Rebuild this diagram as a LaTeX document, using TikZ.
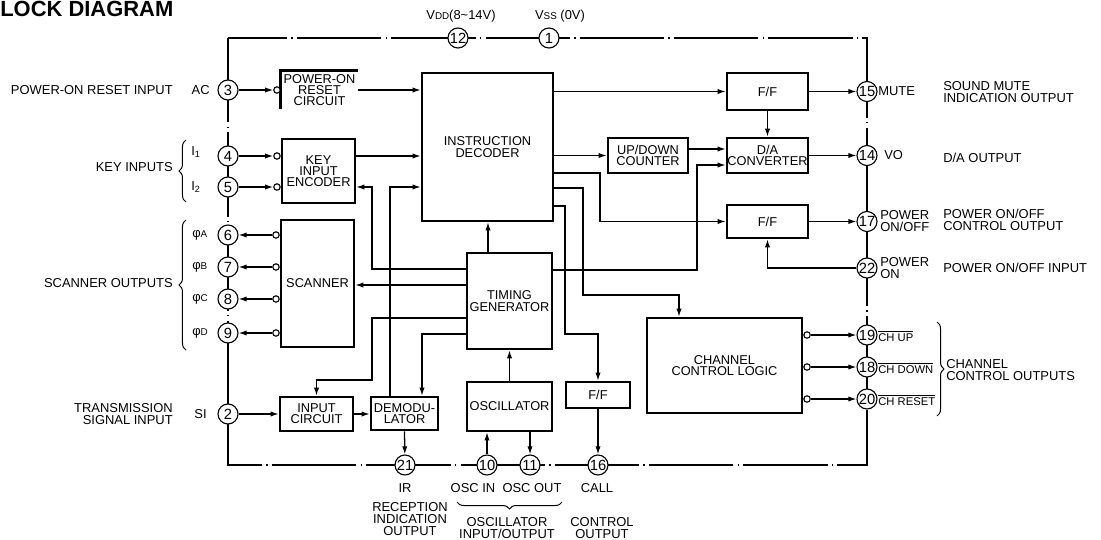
\documentclass[tikz,border=0pt]{standalone}
\usepackage{fontspec}
\setmainfont{Liberation Sans}
\usetikzlibrary{arrows.meta,positioning,decorations.pathreplacing}
\newcommand\ovl[1]{$\overline{\mbox{#1}}$}
\newcommand\sm[1]{{\fontsize{7}{7}\selectfont #1}}

\begin{document}
\begin{tikzpicture}[
  x=0.025cm, y=-0.025cm,
  font=\fontsize{9.2}{8.3}\selectfont,
  blk/.style 2 args={draw, line width=1.8pt, inner sep=0pt, align=center,
    font=\fontsize{9.1}{8}\selectfont, minimum width=#1*0.025cm, minimum height=#2*0.025cm},
  pin/.style={circle, draw, line width=0.8pt, fill=white, minimum size=0.5cm, inner sep=0pt, font=\fontsize{10.5}{10}\selectfont},
  bub/.style={circle, draw, line width=0.8pt, fill=white, minimum size=0.16cm, inner sep=0pt},
  arr/.style={-{Latex[length=2mm,width=1.3mm]}, line width=0.9pt},
  lbl/.style={inner sep=0pt, align=left},
  chlbl/.style={inner sep=0pt, font=\fontsize{8}{8}\selectfont},
  brc/.style={decorate, decoration={brace, amplitude=5pt}, line width=0.7pt},
  chip/.style={line width=0.8pt, dash pattern=on 60pt off 3pt on 1pt off 3pt},
]
\useasboundingbox (0,0) rectangle (1101,540);

\node[anchor=base west, inner sep=0pt, font=\bfseries\fontsize{15.6}{16}\selectfont] (title) at (0,16) {LOCK DIAGRAM};

% ===== chip outline and pins =====
\draw[chip] (228,38) rectangle (867,465);

\node[pin] (p12) at (458,38) {12};
\node[pin] (p1) at (549,38) {1};
\node (vdd) at (461,16) {V\sm{DD}(8\textasciitilde14V)};
\node (vss) at (560,16) {V\sm{SS} (0V)};

\node[pin] (p3) at (228,90) {3};
\node[pin] (p4) at (228,156) {4};
\node[pin] (p5) at (228,187) {5};
\node[pin] (p6) at (228,235) {6};
\node[pin] (p7) at (228,267) {7};
\node[pin] (p8) at (228,299) {8};
\node[pin] (p9) at (228,333) {9};
\node[pin] (p2) at (228,414) {2};

\node[pin] (p15) at (867,91.5) {15};
\node[pin] (p14) at (867,155.5) {14};
\node[pin] (p17) at (867,221.5) {17};
\node[pin] (p22) at (867,268) {22};
\node[pin] (p19) at (867,335) {19};
\node[pin] (p18) at (867,367) {18};
\node[pin] (p20) at (867,399) {20};

\node[pin] (p21) at (405,465) {21};
\node[pin] (p10) at (487,465) {10};
\node[pin] (p11) at (530,465) {11};
\node[pin] (p16) at (598,465) {16};

% ===== blocks =====
\node[blk={75}{36}, draw=none] (por) at (319.5,90) {POWER-ON\\RESET\\CIRCUIT};
\draw[line width=1.8pt] (por.south west) -- (por.north west) -- (por.north east);
\node[blk={73}{64}] (kie) at (318.5,171) {KEY\\INPUT\\ENCODER};
\node[blk={73}{127}] (scan) at (317.5,283.5) {SCANNER};
\node[blk={73}{34}] (inpc) at (316.5,414) {INPUT\\CIRCUIT};
\node[blk={67}{33}] (demod) at (404.5,413.5) {DEMODU-\\LATOR};
\node[blk={131}{148}] (idec) at (487.5,147) {INSTRUCTION\\DECODER};
\node[blk={85}{96}] (tgen) at (509.5,301) {TIMING\\GENERATOR};
\node[blk={85}{49}] (osc) at (509.5,406.5) {OSCILLATOR};
\node[blk={64}{26}] (ffcall) at (598,395) {F/F};
\node[blk={155}{95}] (ccl) at (724.5,365.5) {CHANNEL\\CONTROL LOGIC};
\node[blk={80}{35}] (udc) at (648,155.5) {UP/DOWN\\COUNTER};
\node[blk={81}{37}] (ffmute) at (767.5,91.5) {F/F};
\node[blk={81}{35}] (dac) at (767.5,155.5) {D/A\\CONVERTER};
\node[blk={81}{33}] (ffpow) at (767.5,221.5) {F/F};

% inverting inputs / outputs
\node[bub, anchor=east] (b3) at (por.west |- p3) {};
\node[bub, anchor=east] (b4) at (kie.west |- p4) {};
\node[bub, anchor=east] (b5) at (kie.west |- p5) {};
\node[bub, anchor=east] (b6) at (scan.west |- p6) {};
\node[bub, anchor=east] (b7) at (scan.west |- p7) {};
\node[bub, anchor=east] (b8) at (scan.west |- p8) {};
\node[bub, anchor=east] (b9) at (scan.west |- p9) {};
\node[bub, anchor=west] (b19) at (ccl.east |- p19) {};
\node[bub, anchor=west] (b18) at (ccl.east |- p18) {};
\node[bub, anchor=west] (b20) at (ccl.east |- p20) {};

% ===== connections =====
\draw[arr] (p3) -- (b3);
\draw[arr] (p4) -- (b4);
\draw[arr] (p5) -- (b5);
\draw[arr] (b6) -- (p6);
\draw[arr] (b7) -- (p7);
\draw[arr] (b8) -- (p8);
\draw[arr] (b9) -- (p9);
\draw[arr] (p2) -- (inpc.west);
\draw[arr] (inpc.east) -- (demod.west |- inpc.east);
\draw[arr] (demod.south) -- (p21);

\draw[arr] (por.east) -- (idec.west |- por.east);
\draw[arr] (kie.east |- p4) -- (idec.west |- p4);
\draw[arr] (demod.north -| 390,0) |- (idec.west |- p5);
\draw[arr] (tgen.west |- 0,269) -| (372,187) -- (kie.east |- p5);
\draw[arr] (tgen.west |- 0,285) -- (scan.east |- 0,285);
\draw[arr] (tgen.west |- 0,318) -| (372,380) -| (inpc.north);
\draw[arr] (tgen.west |- 0,334) -| (demod.north -| 422,0);
\draw[arr] (tgen.north -| 488,0) -- (idec.south -| 488,0);
\draw[arr] (osc.north) -- (tgen.south);
\draw[arr] (p10) -- (p10 |- osc.south);
\draw[arr] (p11 |- osc.south) -- (p11);

\draw[arr] (idec.east |- ffmute) -- (ffmute.west);
\draw[arr] (idec.east |- udc) -- (udc.west);
\draw[arr] (udc.east |- 0,149) -- (dac.west |- 0,149);
\draw[arr] (tgen.east |- 0,270) -| (697,165) -- (dac.west |- 0,165);
\draw[arr] (idec.east |- 0,173) -| (600,200) |- (ffpow.west);
\draw[arr] (idec.east |- 0,188) -| (583,295) -| (ccl.north -| 679,0);
\draw[arr] (idec.east |- 0,206) -| (565,334) -| (ffcall.north);
\draw[arr] (ffcall.south) -- (p16);

\draw[arr] (ffmute.south) -- (dac.north);
\draw[arr] (ffmute.east) -- (p15);
\draw[arr] (dac.east) -- (p14);
\draw[arr] (ffpow.east) -- (p17);
\draw[arr] (p22) -| (ffpow.south);
\draw[arr] (b19) -- (p19);
\draw[arr] (b18) -- (p18);
\draw[arr] (b20) -- (p20);

% ===== left labels =====
\node[lbl, anchor=east] (acl) at (210,90) {AC};
\node[lbl, anchor=east] (porin) at (173,90) {POWER-ON RESET INPUT};
\node[lbl, anchor=west] (i1) at (191,152) {I\textsubscript{1}};
\node[lbl, anchor=west] (i2) at (191,187) {I\textsubscript{2}};
\draw[brc] (186,202) -- (186,140);
\node[lbl, anchor=east] (keyin) at (173,167) {KEY INPUTS};
\node[lbl, anchor=west] (pha) at (192,235) {φ\sm{A}};
\node[lbl, anchor=west] (phb) at (192,267) {φ\sm{B}};
\node[lbl, anchor=west] (phc) at (192,299) {φ\sm{C}};
\node[lbl, anchor=west] (phd) at (192,333) {φ\sm{D}};
\draw[brc] (186,350) -- (186,220);
\node[lbl, anchor=east] (scanout) at (173,283) {SCANNER OUTPUTS};
\node[lbl, anchor=east] (sil) at (207,414) {SI};
\node[lbl, anchor=east, align=right] (trin) at (173,414) {TRANSMISSION\\SIGNAL INPUT};

% ===== right labels =====
\node[lbl, anchor=west] (mute) at (878,91) {MUTE};
\node[lbl, anchor=west] (muteout) at (943,92) {SOUND MUTE\\INDICATION OUTPUT};
\node[lbl, anchor=west] (vo) at (884,155) {VO};
\node[lbl, anchor=west] (daout) at (943,158) {D/A OUTPUT};
\node[lbl, anchor=west] (pwr) at (880,221) {POWER\\ON/OFF};
\node[lbl, anchor=west] (pwrout) at (943,220) {POWER ON/OFF\\CONTROL OUTPUT};
\node[lbl, anchor=west] (pwron) at (880,268) {POWER\\ON};
\node[lbl, anchor=west] (pwrin) at (943,268) {POWER ON/OFF INPUT};
\node[chlbl, anchor=west] (chup) at (878,336) {\ovl{CH UP}};
\node[chlbl, anchor=west] (chdn) at (878,368) {\ovl{CH DOWN}};
\node[chlbl, anchor=west] (chrs) at (878,400) {\ovl{CH RESET}};
\draw[brc] (937,322) -- (937,416);
\node[lbl, anchor=west] (chout) at (946,370) {CHANNEL\\CONTROL OUTPUTS};

% ===== bottom labels =====
\node (ir) at (405,488) {IR};
\node (oscin) at (473,488) {OSC IN};
\node (oscout) at (532,488) {OSC OUT};
\node (call) at (597,488) {CALL};
\node[align=center] (recout) at (410,519) {RECEPTION\\INDICATION\\OUTPUT};
\draw[brc] (562,502) -- (457,502);
\node[align=center] (oscio) at (507,528) {OSCILLATOR\\INPUT/OUTPUT};
\node[align=center] (ctlout) at (602,528) {CONTROL\\OUTPUT};

\end{tikzpicture}
\end{document}
